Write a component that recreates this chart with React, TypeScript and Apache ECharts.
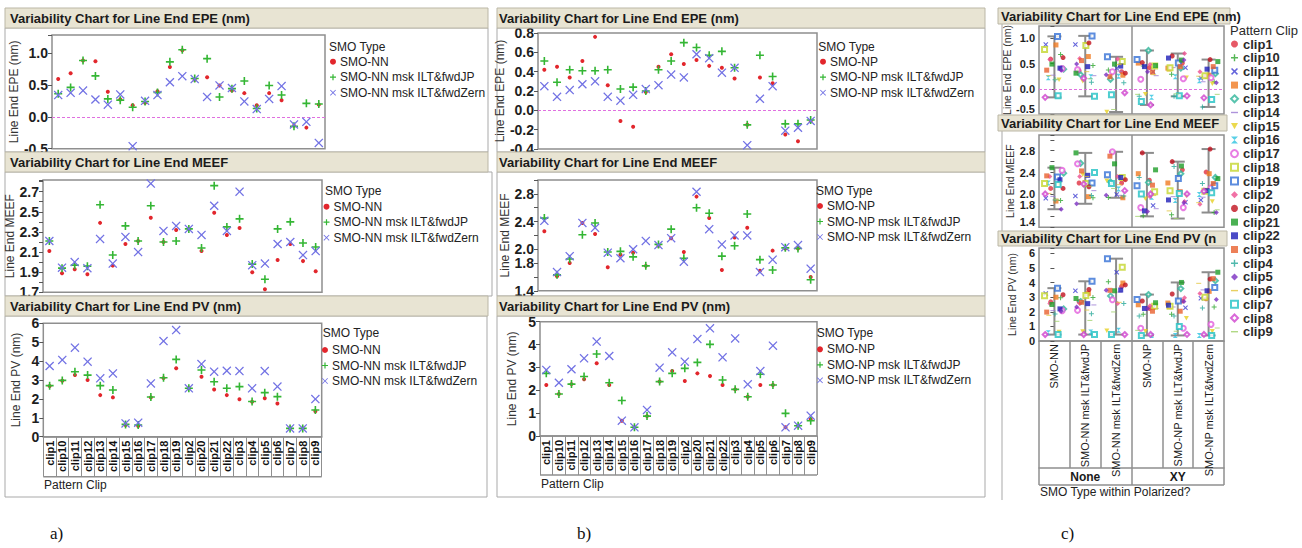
import React, { useEffect, useRef } from 'react';
import * as echarts from 'echarts';

const FONT = '"Liberation Sans", Arial, sans-serif';

// ---------------- data ----------------
const clips = ['clip1', 'clip10', 'clip11', 'clip12', 'clip13', 'clip14', 'clip15', 'clip16', 'clip17', 'clip18', 'clip19', 'clip2', 'clip20', 'clip21', 'clip22', 'clip3', 'clip4', 'clip5', 'clip6', 'clip7', 'clip8', 'clip9'];

const typesNN = ['SMO-NN', 'SMO-NN msk ILT&fwdJP', 'SMO-NN msk ILT&fwdZern'];
const typesNP = ['SMO-NP', 'SMO-NP msk ILT&fwdJP', 'SMO-NP msk ILT&fwdZern'];
const smoTypes = [...typesNN, ...typesNP];
const polarized = ['None', 'XY'];

// panel a (no polarization)
const epeNN = [0.59, 0.68, 0.88, 0.87, 0.39, 0.27, 0.18, 0.22, 0.40, 0.78, 1.04, 0.58, 0.62, 0.49, 0.41, 0.37, 0.18, 0.37, 0.26, -0.14, -0.17, 0.19];
const epeNNjp = [0.36, 0.46, 0.88, 0.64, 0.28, 0.26, 0.15, 0.24, 0.38, 0.86, 1.05, 0.60, 0.91, 0.31, 0.44, 0.56, 0.13, 0.49, 0.34, -0.15, 0.21, 0.20];
const epeNNzern = [0.34, 0.375, 0.41, 0.27, 0.19, 0.35, -0.46, 0.25, 0.34, 0.54, 0.635, 0.59, 0.31, 0.49, 0.45, 0.24, 0.12, 0.28, 0.48, -0.12, -0.08, -0.41];

const meefNN = [2.11, 1.89, 1.93, 1.88, 2.39, 1.965, 2.18, 2.21, 2.44, 2.20, 2.32, 2.33, 2.11, 2.49, 2.27, 2.34, 1.90, 1.73, 2.02, 2.18, 2.01, 1.91];
const meefNNjp = [2.21, 1.94, 1.97, 1.96, 2.57, 2.07, 2.36, 2.21, 2.56, 2.20, 2.21, 2.33, 2.14, 2.76, 2.35, 2.43, 1.98, 1.83, 2.33, 2.40, 2.19, 2.15];
const meefNNzern = [2.21, 1.945, 2.00, 1.94, 2.23, 1.985, 2.25, 2.10, 2.78, 2.31, 2.36, 2.33, 2.27, 2.56, 2.31, 2.70, 1.97, 1.985, 2.18, 2.20, 2.07, 2.11];

const pvNN = [2.68, 2.96, 3.26, 3.00, 2.20, 2.08, 0.62, 0.56, 2.08, 3.10, 3.62, 2.56, 3.17, 2.50, 2.20, 1.98, 1.85, 2.03, 1.76, 0.44, 0.44, 1.35];
const pvNNjp = [2.70, 2.98, 3.44, 3.26, 2.70, 2.47, 0.65, 0.62, 2.10, 3.12, 4.09, 2.56, 3.53, 2.91, 2.56, 2.65, 1.86, 2.33, 2.12, 0.44, 0.44, 1.41];
const pvNNzern = [3.74, 4.06, 4.71, 3.97, 3.09, 3.35, 0.70, 0.74, 2.82, 5.06, 5.64, 2.56, 3.84, 3.44, 3.49, 3.47, 2.56, 3.47, 2.65, 0.44, 0.44, 1.99];

// panel b (XY polarization)
const epeNP = [0.42, 0.45, 0.34, 0.51, 0.76, 0.26, -0.11, -0.17, 0.19, 0.45, 0.58, 0.48, 0.52, 0.46, 0.44, 0.33, -0.15, 0.34, 0.28, -0.25, -0.32, -0.11];
const epeNPjp = [0.51, 0.29, 0.42, 0.41, 0.41, 0.42, 0.22, 0.24, 0.20, 0.42, 0.51, 0.70, 0.65, 0.57, 0.61, 0.44, -0.15, 0.57, 0.35, -0.14, -0.14, -0.10];
const epeNPzern = [0.25, 0.14, 0.21, 0.27, 0.30, 0.14, 0.10, 0.16, 0.22, 0.26, 0.37, 0.34, 0.58, 0.54, 0.39, 0.44, -0.36, 0.12, 0.25, -0.21, -0.18, -0.11];

const meefNP = [2.26, 1.61, 1.80, 2.38, 2.22, 1.74, 1.92, 1.95, 1.76, 2.05, 2.16, 1.96, 2.76, 2.45, 1.70, 2.17, 2.31, 1.69, 1.98, 2.01, 2.01, 1.60];
const meefNPjp = [2.45, 1.63, 1.86, 2.21, 2.38, 1.96, 1.97, 1.89, 1.76, 2.07, 2.29, 1.87, 2.60, 2.52, 1.90, 2.05, 2.51, 1.85, 1.70, 2.02, 2.01, 1.56];
const meefNPzern = [2.41, 1.67, 1.90, 2.38, 2.31, 1.95, 1.87, 2.00, 2.12, 2.06, 2.16, 1.82, 2.83, 2.29, 2.07, 2.20, 2.20, 1.67, 1.85, 2.03, 2.06, 1.72];

const pvNP = [2.23, 1.84, 2.27, 2.48, 3.18, 2.23, 0.67, 0.38, 0.87, 2.38, 2.84, 2.41, 2.74, 2.62, 2.23, 2.04, 1.72, 2.23, 2.23, 0.38, 0.45, 0.73];
const pvNPjp = [2.74, 1.84, 2.27, 2.60, 3.59, 2.33, 1.55, 0.38, 0.87, 2.38, 2.74, 2.96, 3.22, 4.01, 2.45, 2.04, 1.72, 2.70, 2.23, 0.99, 0.45, 0.67];
const pvNPzern = [2.89, 2.33, 2.92, 3.40, 4.13, 3.50, 0.67, 0.38, 1.14, 2.99, 3.66, 3.25, 4.24, 4.71, 3.44, 4.27, 2.26, 2.84, 3.95, 0.38, 0.45, 0.89];

// tick labels
const epeTicksA = [-0.5, 0, 0.5, 1.0];
const meefTicksA = [1.7, 1.9, 2.1, 2.3, 2.5, 2.7];
const pvTicksA = [0, 1, 2, 3, 4, 5, 6];
const epeTicksB = [-0.4, -0.2, 0, 0.2, 0.4, 0.6, 0.8];
const meefTicksB = [1.4, 1.8, 2.0, 2.4, 2.8];
const pvTicksB = [0, 1, 2, 3, 4, 5];
const epeTicksC = [-0.5, 0, 0.5, 1.0];
const meefTicksC = [1.4, 1.8, 2.0, 2.4, 2.8];
const pvTicksC = [0, 1, 2, 3, 4, 5, 6];

// ---------------- styles ----------------
const RED = '#E2262C';
const GREEN = '#34B634';
const BLUE = '#7272E4';
const ZERO = '#E070E0';
const PLUS = 'path://M4,0H6V4H10V6H6V10H4V6H0V4H4Z';
const XTHIN = 'path://M1,0L5,4L9,0L10,1L6,5L10,9L9,10L5,6L1,10L0,9L4,5L0,1Z';
const XMARK = 'path://M1.5,0L5,3.5L8.5,0L10,1.5L6.5,5L10,8.5L8.5,10L5,6.5L1.5,10L0,8.5L3.5,5L0,1.5Z';
const DASH = 'path://M0,4H10V6H0Z';
const TRIDOWN = 'path://M0,0H10L5,9Z';
const HOURGLASS = 'path://M0,0H10L5,5Z M5,5L10,10H0Z';

const clipSymbols = ['circle', PLUS, XMARK, 'rect', 'emptyDiamond', DASH, TRIDOWN, HOURGLASS, 'emptyCircle', 'emptyRect', 'emptyRect', 'diamond', 'circle', 'rect', 'rect', 'rect', PLUS, 'diamond', DASH, 'emptyRect', 'emptyDiamond', DASH];
const clipColors = ['#E03040', '#2DA52D', '#3C3CD2', '#F07A22', '#2FB59A', '#9A78D2', '#E6CF22', '#2EC3E0', '#E25EDC', '#C4D62E', '#3470D6', '#EE4E8E', '#C0121E', '#1E9E28', '#1E1EB8', '#E8602E', '#25A898', '#7A2EC0', '#E2C43A', '#22C2C4', '#D042CE', '#9ECF66'];
const jitter = [-0.12, 0.2, -0.28, 0.05, 0.3, -0.05, 0.15, -0.2, 0.25, -0.32, 0.1, -0.15, 0.28, -0.08, 0.18, -0.25, 0.02, 0.22, -0.18, 0.12, -0.3, 0.08];

const fmt = (labels: number[], dec: number) => (v: number) => {
  const hit = labels.find((l) => Math.abs(l - v) < 1e-6);
  return hit === undefined ? '' : hit.toFixed(dec);
};

function buildOption() {
  const grid: any[] = [];
  const xAxis: any[] = [];
  const yAxis: any[] = [];
  const series: any[] = [];
  const legend: any[] = [];
  const els: any[] = [];

  const yAx = (gi: number, s: any, fs: number, nameFs: number, minBottom = false) => ({
    type: 'value', gridIndex: gi, min: s.min, max: s.max, interval: s.interval,
    axisLine: { show: false },
    axisTick: { show: true, length: 4, lineStyle: { color: '#555' } },
    splitLine: { show: false },
    axisLabel: {
      fontSize: fs, fontWeight: 'bold', color: '#1e1e1e', fontFamily: FONT, margin: 4, formatter: fmt(s.labels, s.dec),
      ...(minBottom ? { verticalAlignMinLabel: 'bottom' } : {}),
    },
    name: s.yName, nameLocation: 'middle', nameGap: s.nameGap,
    nameTextStyle: { fontSize: nameFs, color: '#333', fontFamily: FONT },
  });
  const gridBox = (g: any) => ({ ...g, show: true, borderColor: '#8f8f8f', borderWidth: 1.5, backgroundColor: '#fff', containLabel: false });

  const abSpecs = [
    { grid: { left: 52, top: 35, width: 273, height: 113.7 }, vals: [epeNN, epeNNjp, epeNNzern], names: typesNN, min: -0.5, max: 1.28, interval: 0.5, labels: epeTicksA, dec: 1, yName: 'Line End EPE (nm)', nameGap: 30, zero: true, table: 0, leg: [330, 54.7], legTitle: [329, 46.7] },
    { grid: { left: 43, top: 180, width: 279, height: 112.3 }, vals: [meefNN, meefNNjp, meefNNzern], names: typesNN, min: 1.7, max: 2.816, interval: 0.1, labels: meefTicksA, dec: 1, yName: 'Line End MEEF', nameGap: 21, zero: false, table: 0, leg: [323.5, 199.7], legTitle: [325, 190.7] },
    { grid: { left: 43.3, top: 323.3, width: 278.4, height: 113.4 }, vals: [pvNN, pvNNjp, pvNNzern], names: typesNN, min: 0, max: 6, interval: 1, labels: pvTicksA, dec: 0, yName: 'Line End PV (nm)', nameGap: 21, zero: false, table: 40, leg: [322, 343], legTitle: [322.7, 333.3] },
    { grid: { left: 538, top: 33, width: 279, height: 116 }, vals: [epeNP, epeNPjp, epeNPzern], names: typesNP, min: -0.4, max: 0.8, interval: 0.2, labels: epeTicksB, dec: 1, yName: 'Line End EPE (nm)', nameGap: 26, zero: true, table: 0, leg: [820, 54.7], legTitle: [818.3, 46.7] },
    { grid: { left: 538, top: 180, width: 279, height: 110.8 }, vals: [meefNP, meefNPjp, meefNPzern], names: typesNP, min: 1.4, max: 3.0, interval: 0.2, labels: meefTicksB, dec: 1, yName: 'Line End MEEF', nameGap: 21, zero: false, table: 0, leg: [817, 199], legTitle: [816, 190.7] },
    { grid: { left: 540, top: 321.7, width: 277, height: 114.3 }, vals: [pvNP, pvNPjp, pvNPzern], names: typesNP, min: 0, max: 5, interval: 1, labels: pvTicksB, dec: 0, yName: 'Line End PV (nm)', nameGap: 22, zero: false, table: 39, leg: [817, 342.3], legTitle: [816.7, 333.3] },
  ];

  abSpecs.forEach((s, i) => {
    grid.push(gridBox(s.grid));
    if (s.table) {
      xAxis.push({
        type: 'category', gridIndex: i, data: clips, position: 'bottom',
        axisLine: { show: true, lineStyle: { color: '#8f8f8f', width: 1.5 } },
        axisTick: { show: true, interval: 0, length: s.table, lineStyle: { color: '#8f8f8f', width: 1 } },
        axisLabel: { interval: 0, rotate: 90, fontSize: 11, fontWeight: 'bold', color: '#111', fontFamily: FONT, margin: 4 },
        splitLine: { show: false },
      });
    } else {
      xAxis.push({ type: 'category', gridIndex: i, data: clips, show: false });
    }
    yAxis.push(yAx(i, s, 14, 12));
    const syms = ['circle', PLUS, XTHIN];
    const sizes = [4, 8, 9];
    const cols = [RED, GREEN, BLUE];
    s.vals.forEach((arr, k) => {
      const ser: any = {
        type: 'scatter', name: s.names[k], xAxisIndex: i, yAxisIndex: i,
        symbol: syms[k], symbolSize: sizes[k], itemStyle: { color: cols[k], opacity: 1 },
        data: arr.map((v, j) => [clips[j], v]), z: 3 + k,
      };
      if (k === 0 && s.zero) {
        ser.markLine = { silent: true, symbol: 'none', label: { show: false }, data: [{ yAxis: 0, lineStyle: { color: ZERO, type: [3, 2], width: 1 } }] };
      }
      series.push(ser);
    });
    legend.push({
      left: s.leg[0], top: s.leg[1], orient: 'vertical', padding: 0, itemGap: 1.5, itemWidth: 6, itemHeight: 6,
      selectedMode: false, data: s.names,
      textStyle: { fontSize: 12, lineHeight: 14, color: '#222', fontFamily: FONT, padding: [0, 0, 0, -1] },
    });
    els.push({ type: 'text', x: s.legTitle[0], y: s.legTitle[1], z: 50, silent: true, style: { text: 'SMO Type', fontSize: 12, fontFamily: FONT, fill: '#222', verticalAlign: 'middle' } });
  });

  // ---------- panel c ----------
  const cSpecs = [
    { grid: { left: 1039, top: 26, width: 185, height: 88 }, cols: [epeNN, epeNNjp, epeNNzern, epeNP, epeNPjp, epeNPzern], min: -0.5, max: 1.246, interval: 0.5, labels: epeTicksC, dec: 1, yName: 'Line End EPE (nm)', nameGap: 26, zero: true },
    { grid: { left: 1039, top: 135, width: 185, height: 92.3 }, cols: [meefNN, meefNNjp, meefNNzern, meefNP, meefNPjp, meefNPzern], min: 1.4, max: 3.087, interval: 0.2, labels: meefTicksC, dec: 1, yName: 'Line End MEEF', nameGap: 22, zero: false },
    { grid: { left: 1039, top: 248, width: 185, height: 93 }, cols: [pvNN, pvNNjp, pvNNzern, pvNP, pvNPjp, pvNPzern], min: 0, max: 6.37, interval: 1, labels: pvTicksC, dec: 0, yName: 'Line End PV (nm)', nameGap: 22, zero: false },
  ];
  cSpecs.forEach((s, ci) => {
    const gi = 6 + ci;
    grid.push(gridBox(s.grid));
    xAxis.push({ type: 'value', gridIndex: gi, min: -0.5, max: 5.5, show: false });
    yAxis.push(yAx(gi, s, 11, 10.5, ci < 2));
    const ranges = s.cols.map((arr, c) => [c, Math.min(...arr), Math.max(...arr)]);
    series.push({
      type: 'custom', name: 'range', xAxisIndex: gi, yAxisIndex: gi, z: 2, data: ranges,
      encode: { x: 0, y: [1, 2] },
      renderItem: (params: any, api: any) => {
        const lo = api.coord([api.value(0), api.value(1)]);
        const hi = api.coord([api.value(0), api.value(2)]);
        const st = { stroke: '#8c8c8c', lineWidth: 2 };
        const cap = 7;
        return {
          type: 'group', children: [
            { type: 'line', shape: { x1: lo[0], y1: lo[1], x2: hi[0], y2: hi[1] }, style: st },
            { type: 'line', shape: { x1: hi[0] - cap, y1: hi[1], x2: hi[0] + cap, y2: hi[1] }, style: st },
            { type: 'line', shape: { x1: lo[0] - cap, y1: lo[1], x2: lo[0] + cap, y2: lo[1] }, style: st },
          ],
        };
      },
    });
    clips.forEach((clip, k) => {
      const ser: any = {
        type: 'scatter', name: clip, xAxisIndex: gi, yAxisIndex: gi,
        symbol: clipSymbols[k], symbolSize: 5, symbolKeepAspect: true,
        itemStyle: { color: clipColors[k] }, z: 4,
        data: s.cols.map((arr, c) => [c + jitter[(k + c * 7) % jitter.length], arr[k]]),
      };
      if (k === 0) {
        const ml: any[] = [{ xAxis: 2.5, lineStyle: { color: '#8f8f8f', width: 1.5, type: 'solid' } }];
        if (s.zero) ml.push({ yAxis: 0, lineStyle: { color: ZERO, width: 1, type: [3, 2] } });
        ser.markLine = { silent: true, symbol: 'none', label: { show: false }, data: ml };
      }
      series.push(ser);
    });
  });
  // c: label table axes on the PV grid
  xAxis.push({
    type: 'category', gridIndex: 8, data: smoTypes, position: 'bottom',
    axisLine: { show: true, lineStyle: { color: '#8f8f8f', width: 1.5 } },
    axisTick: { show: true, interval: 0, length: 127, lineStyle: { color: '#8f8f8f', width: 1.5 } },
    axisLabel: { interval: 0, rotate: 90, fontSize: 11, color: '#1a1a1a', fontFamily: FONT, margin: 3 },
  });
  xAxis.push({
    type: 'category', gridIndex: 8, data: polarized, position: 'bottom', offset: 127,
    axisLine: { show: true, lineStyle: { color: '#8f8f8f', width: 1.5 } },
    axisTick: { show: true, interval: 0, length: 17, lineStyle: { color: '#8f8f8f', width: 1.5 } },
    axisLabel: { interval: 0, fontSize: 12, fontWeight: 'bold', color: '#1a1a1a', fontFamily: FONT, margin: 3 },
  });
  legend.push({
    left: 1230, top: 37.5, orient: 'vertical', padding: 0, itemGap: 0.7, itemWidth: 7, itemHeight: 7,
    selectedMode: false, data: clips,
    textStyle: { fontSize: 13, fontWeight: 'bold', lineHeight: 12, color: '#2a2a2a', fontFamily: FONT },
  });

  // ---------- graphic decorations ----------
  const bar = (x: number, y: number, w: number, h: number, text: string, tx: number, extra: any = {}) => {
    els.push({ type: 'rect', z: 100, silent: true, shape: { x, y, width: w, height: h }, style: { fill: '#E8E4D3', stroke: '#BBB7A6', lineWidth: 1 } });
    els.push({ type: 'text', z: 101, silent: true, x: tx, y: y + h / 2, style: { text, fontSize: 13, fontWeight: 'bold', fontFamily: FONT, fill: '#1b1b1b', verticalAlign: 'middle', ...extra } });
  };
  const box = (x: number, y: number, w: number, h: number) => {
    els.push({ type: 'rect', z: 0, silent: true, shape: { x, y, width: w, height: h }, style: { fill: 'none', stroke: '#A9A9A9', lineWidth: 1 } });
  };
  const line = (x1: number, y1: number, x2: number, y2: number, color = '#8f8f8f', w = 1.5) => {
    els.push({ type: 'line', z: 60, silent: true, shape: { x1, y1, x2, y2 }, style: { stroke: color, lineWidth: w } });
  };
  const label = (x: number, y: number, text: string, size = 12, family = FONT, extra: any = {}) => {
    els.push({ type: 'text', z: 60, silent: true, x, y, style: { text, fontSize: size, fontFamily: family, fill: '#222', verticalAlign: 'middle', ...extra } });
  };

  // panel a
  box(5, 28, 483, 124);
  box(5, 172, 487, 124);
  box(5, 316, 482, 181);
  bar(5, 8, 483, 20, 'Variability Chart for Line End EPE (nm)', 10);
  bar(5, 152, 483, 20, 'Variability Chart for Line End MEEF', 10);
  bar(5, 296, 483, 20, 'Variability Chart for Line End PV (nm)', 10);
  line(43.3, 476.7, 321.7, 476.7);
  label(44, 485, 'Pattern Clip');
  // panel b
  box(497, 28, 488, 124);
  box(497, 172, 488, 124);
  box(497, 316, 488, 181);
  bar(497, 8, 488, 20, 'Variability Chart for Line End EPE (nm)', 499);
  bar(497, 152, 488, 20, 'Variability Chart for Line End MEEF', 499);
  bar(497, 296, 488, 20, 'Variability Chart for Line End PV (nm)', 499);
  line(540, 475, 817, 475);
  label(541, 484.3, 'Pattern Clip');
  // panel c
  line(1002, 24, 1002, 500, '#A9A9A9', 1);
  bar(998, 8, 232, 16, 'Variability Chart for Line End EPE (nm)', 1001);
  bar(998, 115, 229, 16, 'Variability Chart for Line End MEEF', 1001);
  bar(998, 231, 229, 15, 'Variability Chart for Line End PV (nm)', 1001, { width: 226, overflow: 'truncate', ellipsis: '' });
  line(1039, 485, 1224, 485);
  label(1040, 491.7, 'SMO Type within Polarized?');
  label(1230, 30, 'Pattern Clip', 13, FONT, { fill: '#2a2a2a' });
  // captions
  const SERIF = '"Liberation Serif", "Times New Roman", serif';
  label(50, 533, 'a)', 17, SERIF, { fill: '#111' });
  label(577, 533, 'b)', 17, SERIF, { fill: '#111' });
  label(1061, 533, 'c)', 17, SERIF, { fill: '#111' });

  return {
    animation: false,
    backgroundColor: '#ffffff',
    textStyle: { fontFamily: FONT },
    grid, xAxis, yAxis, series, legend,
    graphic: { elements: els },
  };
}

export default function App() {
  const ref = useRef<HTMLDivElement>(null);
  useEffect(() => {
    if (!ref.current) return;
    const chart = echarts.init(ref.current, undefined, { renderer: 'svg' });
    chart.setOption(buildOption() as any);
    return () => chart.dispose();
  }, []);
  return <div ref={ref} style={{ position: 'absolute', left: 0, top: 0, width: 1302, height: 548, background: '#ffffff' }} />;
}
